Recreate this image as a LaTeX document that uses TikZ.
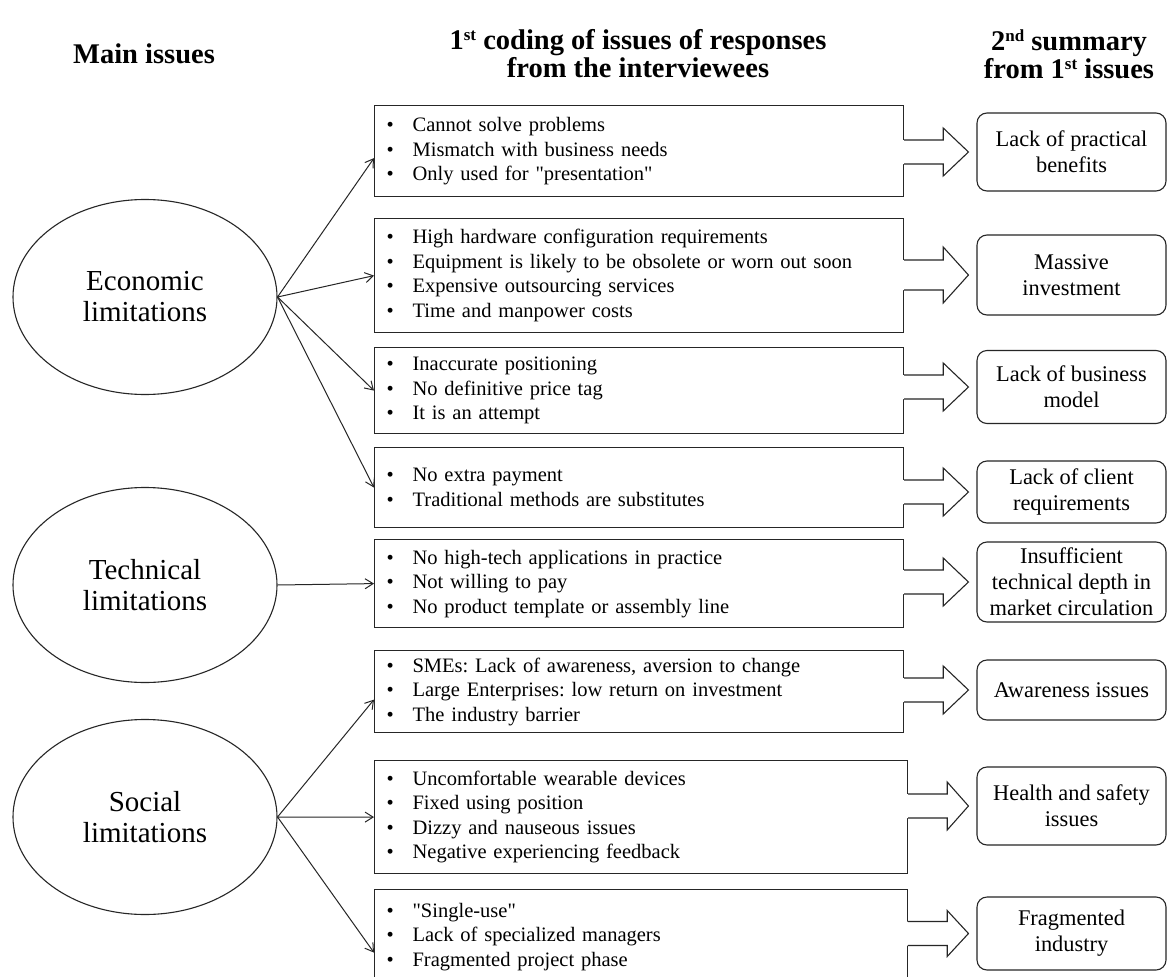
\documentclass[tikz,border=0pt]{standalone}
\usepackage{fontspec}
\setmainfont{Liberation Serif}
\newfontfamily\qfont{Liberation Serif}
\usetikzlibrary{arrows.meta,calc,shapes.geometric}
\frenchspacing
\newcommand\itm[1]{\makebox[26pt][l]{\textbullet}#1}
\newcommand\dq{{\qfont"}}
\newcommand\sups[1]{\raisebox{0.33em}{\fontsize{17}{17}\selectfont #1}}
\newcommand\blockarr[4]{%
  \fill[white] let \p1=(#1.east), \p2=(#2.west) in
    (\x1-1.5pt,\y2+#3pt) -- (\x1+39pt,\y2+#3pt) -- (\x1+39pt,\y2+#4pt) -- (\x2-8pt,\y2)
    -- (\x1+39pt,\y2-#4pt) -- (\x1+39pt,\y2-#3pt) -- (\x1-1.5pt,\y2-#3pt) -- cycle;
  \draw[blockline] let \p1=(#1.east), \p2=(#2.west) in
    (\x1,\y2+#3pt) -- (\x1+39pt,\y2+#3pt) -- (\x1+39pt,\y2+#4pt) -- (\x2-8pt,\y2)
    -- (\x1+39pt,\y2-#4pt) -- (\x1+39pt,\y2-#3pt) -- (\x1,\y2-#3pt);
}
\begin{document}
\begin{tikzpicture}[x=1pt,y=-1pt,
  header/.style={font={\fontsize{28.5}{28}\selectfont\bfseries}, align=center, inner sep=0},
  limit/.style={ellipse, draw=black!85, line width=1.1pt, minimum width=264pt, minimum height=195pt,
     inner sep=0, align=center, font={\fontsize{29}{31}\selectfont}},
  ibox/.style={draw=black!85, line width=1.2pt, rectangle, anchor=north west, inner xsep=12pt, inner ysep=0pt,
     align=left, font={\fontsize{20.5}{24.5}\selectfont}},
  rbox/.style={draw=black!85, line width=1.1pt, rounded corners=10pt, minimum width=189pt, inner sep=0,
     align=center, font={\fontsize{22.4}{26}\selectfont}},
  blockline/.style={draw=black!85, line width=1.1pt, line join=miter},
  conn/.style={draw=black!85, line width=1pt, -{Straight Barb[length=8pt,width=10pt]}}]
\useasboundingbox (0,0) rectangle (1173,977);
\fill[white] (0,0) rectangle (1173,977);

% headers
\node[header] (h1) at (144,54) {Main issues};
\node[header] (h2) at (638,54) {1\sups{st} coding of issues of responses\\from the interviewees};
\node[header] (h3) at (1069,54) {2\sups{nd} summary\\from 1\sups{st} issues};

% main issues
\node[limit] (eco) at (145,297) {Economic\\limitations};
\node[limit] (tech) at (145,585) {Technical\\limitations};
\node[limit] (soc) at (145,817) {Social\\limitations};

% first coding boxes
\node[ibox, minimum width=529pt, minimum height=91pt, text width=505pt] (b1) at (374,105)
  {\itm{Cannot solve problems}\\\itm{Mismatch with business needs}\\\itm{Only used for \dq presentation\dq}};
\node[ibox, minimum width=529pt, minimum height=114pt, text width=505pt] (b2) at (374,218)
  {\itm{High hardware configuration requirements}\\\itm{Equipment is likely to be obsolete or worn out soon}\\\itm{Expensive outsourcing services}\\\itm{Time and manpower costs}};
\node[ibox, minimum width=529pt, minimum height=86pt, text width=505pt] (b3) at (374,347)
  {\itm{Inaccurate positioning}\\\itm{No definitive price tag}\\\itm{It is an attempt}};
\node[ibox, minimum width=529pt, minimum height=80pt, text width=505pt] (b4) at (374,447)
  {\itm{No extra payment}\\\itm{Traditional methods are substitutes}};
\node[ibox, minimum width=529pt, minimum height=88pt, text width=505pt] (b5) at (374,539)
  {\itm{No high-tech applications in practice}\\\itm{Not willing to pay}\\\itm{No product template or assembly line}};
\node[ibox, minimum width=529pt, minimum height=82pt, text width=505pt] (b6) at (374,650)
  {\itm{SMEs: Lack of awareness, aversion to change}\\\itm{Large Enterprises: low return on investment}\\\itm{The industry barrier}};
\node[ibox, minimum width=533pt, minimum height=113pt, text width=509pt] (b7) at (374,760)
  {\itm{Uncomfortable wearable devices}\\\itm{Fixed using position}\\\itm{Dizzy and nauseous issues}\\\itm{Negative experiencing feedback}};
\node[ibox, minimum width=533pt, minimum height=94pt, text width=509pt] (b8) at (374,889)
  {\itm{\dq Single-use\dq}\\\itm{Lack of specialized managers}\\\itm{Fragmented project phase}};

% summaries
\node[rbox, minimum height=78pt] (r1) at (1071.5,152) {Lack of practical\\benefits};
\node[rbox, minimum height=80pt] (r2) at (1071.5,275) {Massive\\investment};
\node[rbox, minimum height=73pt] (r3) at (1071.5,387) {Lack of business\\model};
\node[rbox, minimum height=62pt] (r4) at (1071.5,492) {Lack of client\\requirements};
\node[rbox, minimum height=80pt] (r5) at (1071.5,582) {Insufficient\\technical depth in\\market circulation};
\node[rbox, minimum height=60pt] (r6) at (1071.5,690) {Awareness issues};
\node[rbox, minimum height=78pt] (r7) at (1071.5,806) {Health and safety\\issues};
\node[rbox, minimum height=73pt] (r8) at (1071.5,933.5) {Fragmented\\industry};

% thin connectors
\draw[conn] (eco.east) -- ([yshift=-7pt]b1.west);
\draw[conn] (eco.east) -- (b2.west);
\draw[conn] (eco.east) -- (b3.west);
\draw[conn] (eco.east) -- (b4.west);
\draw[conn] (tech.east) -- (b5.west);
\draw[conn] (soc.east) -- ([yshift=-8pt]b6.west);
\draw[conn] (soc.east) -- (b7.west);
\draw[conn] (soc.east) -- ([yshift=-16pt]b8.west);

% block arrows
\blockarr{b1}{r1}{12}{24}
\blockarr{b2}{r2}{15}{28}
\blockarr{b3}{r3}{12}{24}
\blockarr{b4}{r4}{12}{24}
\blockarr{b5}{r5}{12}{24}
\blockarr{b6}{r6}{12}{24}
\blockarr{b7}{r7}{12}{24}
\blockarr{b8}{r8}{12}{23}
\end{tikzpicture}
\end{document}
